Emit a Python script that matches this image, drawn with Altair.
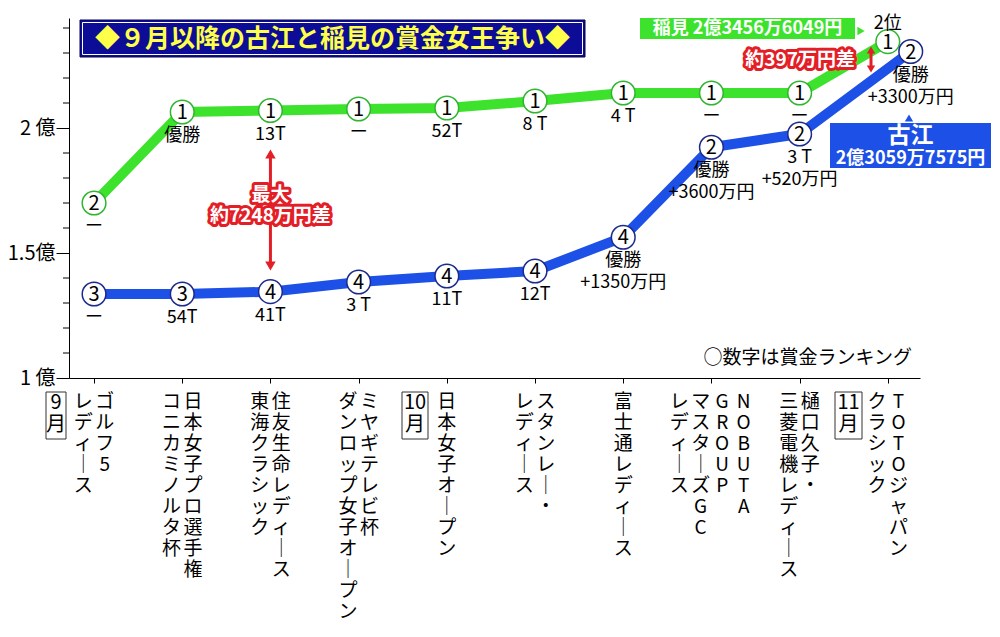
import altair as alt
import pandas as pd

FONT = "Noto Sans CJK JP"
GREEN = "#3de22c"
GREEN_EDGE = "#2fb52f"
BLUE = "#1d50e6"
BLUE_EDGE = "#1b2a8c"
RED = "#e41e26"
NAVY = "#0c0c96"

# data
players = ["稲見", "古江"]
inami_amount = [1.70, 2.064, 2.07, 2.076, 2.08, 2.108, 2.14, 2.14, 2.14, 2.3457]
furue_amount = [1.336, 1.336, 1.3452, 1.384, 1.408, 1.428, 1.563, 1.923, 1.976, 2.306]
inami_rank = [2, 1, 1, 1, 1, 1, 1, 1, 1, 1]
furue_rank = [3, 3, 4, 4, 4, 4, 4, 2, 2, 2]
inami_result = ["ー", "優勝", "13T", "ー", "52T", "8 T", "4 T", "ー", "ー", "2位"]
furue_result = ["ー", "54T", "41T", "3 T", "11T", "12T",
                "優勝\n+1350万円", "優勝\n+3600万円", "3 T\n+520万円", "優勝\n+3300万円"]
tournaments = [
    ["ゴルフ5", "レディース"],
    ["日本女子プロ選手権", "コニカミノルタ杯"],
    ["住友生命レディース", "東海クラシック"],
    ["ミヤギテレビ杯", "ダンロップ女子オープン"],
    ["日本女子オープン"],
    ["スタンレー・", "レディース"],
    ["富士通レディース"],
    ["NOBUTA", "GROUP", "マスターズGC", "レディース"],
    ["樋口久子・", "三菱電機レディース"],
    ["TOTOジャパン", "クラシック"],
]
months = ["9月", "10月", "11月"]
y_labels = [1, 1.5, 2]
y_minor = [1.1, 1.2, 1.3, 1.4, 1.6, 1.7, 1.8, 1.9, 2.1, 2.2, 2.3, 2.4]
title_text = "◆９月以降の古江と稲見の賞金女王争い◆"
inami_total = "稲見  2億3456万6049円"
furue_name = "古江"
furue_total = "2億3059万7575円"
max_gap = "最大\n約7248万円差"
final_gap = "約397万円差"
note = "○数字は賞金ランキング"

rows = []
for i in range(10):
    rows.append(dict(idx=i, player="稲見", amount=inami_amount[i], rank=inami_rank[i], result=inami_result[i]))
for i in range(10):
    rows.append(dict(idx=i, player="古江", amount=furue_amount[i], rank=furue_rank[i], result=furue_result[i]))
df = pd.DataFrame(rows)

xscale = alt.Scale(domain=[-0.284, 9.365], nice=False, zero=False)
yscale = alt.Scale(domain=[1, 2.44], nice=False, zero=False)
x_axis = alt.Axis(values=list(range(10)), labels=False, tickSize=5, title=None, grid=False,
                  tickColor="black", domainColor="black")
y_axis = alt.Axis(values=y_labels, title=None, grid=False, tickSize=13, labelFontSize=20,
                  labelColor="black", tickColor="black", domainColor="black", labelPadding=1,
                  labelFont=FONT,
                  labelExpr="datum.value == 1.5 ? '1.5億' : datum.value + ' 億'")
x_enc = alt.X("xpos:Q", scale=xscale, axis=x_axis)
y_enc = alt.Y("amount:Q", scale=yscale, axis=y_axis)
color_scale = alt.Scale(domain=players, range=[GREEN, BLUE])
edge_scale = alt.Scale(domain=players, range=[GREEN_EDGE, BLUE_EDGE])


def at_event(i):
    return alt.X(datum=i, scale=xscale, axis=x_axis)


# last 古江 circle sits a bit to the right of 稲見's
base = alt.Chart(df).transform_calculate(
    xpos="datum.idx + (datum.player == '古江' && datum.idx == 9 ? 0.26 : 0)"
)

lines = base.mark_line(strokeWidth=10).encode(
    x=x_enc, y=y_enc,
    color=alt.Color("player:N", scale=color_scale, legend=None),
    detail="player:N"
)
circles = base.mark_point(shape="circle", filled=True, fill="white", size=560, strokeWidth=1.5, opacity=1).encode(
    x=x_enc, y=y_enc,
    stroke=alt.Stroke("player:N", scale=edge_scale, legend=None)
)
ranks = base.mark_text(font=FONT, fontSize=20, baseline="middle", dy=1, color="black").encode(
    x=x_enc, y=y_enc, text="rank:Q"
)
results_below = base.transform_filter("!(datum.player == '稲見' && datum.idx == 9)").mark_text(
    font=FONT, fontSize=18, baseline="top", dy=15, lineBreak="\n", lineHeight=22, color="black"
).encode(x=x_enc, y=y_enc, text="result:N")
results_above = base.transform_filter("datum.player == '稲見' && datum.idx == 9").mark_text(
    font=FONT, fontSize=18, baseline="middle", dy=-18, color="black"
).encode(x=x_enc, y=y_enc, text="result:N")

minor = alt.Chart(pd.DataFrame({"amount": y_minor})).mark_rule(color="black", strokeWidth=1).encode(
    y=y_enc, x=alt.value(-6), x2=alt.value(0)
)

# vertical tournament names, one text mark per column
lab_rows = []
for i, cols in enumerate(tournaments):
    n = len(cols)
    for j, c in enumerate(cols):
        lab_rows.append(dict(xpos=i, off=(n - 1) / 2 - j, text="\n".join(c.replace("ー", "│"))))
lab_df = pd.DataFrame(lab_rows)
label_layers = []
for off in sorted(lab_df["off"].unique()):
    label_layers.append(
        alt.Chart(lab_df).transform_filter(f"datum.off == {off}").mark_text(
            font=FONT, fontSize=19, lineBreak="\n", lineHeight=21, baseline="top",
            dx=float(off) * 21.5, color="black"
        ).encode(x=x_enc, y=alt.value(375), text="text:N")
    )

# month boxes
month_layers = []
for m, (x0, x1) in zip(months, [(-23, -3), (333, 359), (766, 793)]):
    mdf = pd.DataFrame({"t": ["\n".join([m[:-1], m[-1]])]})
    month_layers.append(alt.Chart(mdf).mark_rect(fill="white", stroke="#333", strokeWidth=1).encode(
        x=alt.value(x0), x2=alt.value(x1), y=alt.value(374), y2=alt.value(421)))
    month_layers.append(alt.Chart(mdf).mark_text(
        font=FONT, fontSize=20, lineBreak="\n", lineHeight=22, baseline="top", color="black"
    ).encode(x=alt.value((x0 + x1) / 2), y=alt.value(375), text="t:N"))

# title box
tdf = pd.DataFrame({"t": [title_text]})
title_box = alt.Chart(tdf).mark_rect(fill=NAVY, stroke="#05054a", strokeWidth=1).encode(
    x=alt.value(11), x2=alt.value(516), y=alt.value(2), y2=alt.value(39))
title_inner = alt.Chart(tdf).mark_rect(fill=None, stroke="white", strokeWidth=1).encode(
    x=alt.value(13.5), x2=alt.value(513.5), y=alt.value(4.5), y2=alt.value(36.5))
title_txt = alt.Chart(tdf).mark_text(
    font=FONT, fontSize=25, fontWeight="bold", color="#ffff4a", baseline="middle"
).encode(x=alt.value(263.5), y=alt.value(21), text="t:N")

# name boxes
gdf = pd.DataFrame({"t": [inami_total]})
green_box = alt.Chart(gdf).mark_rect(fill=GREEN).encode(
    x=alt.value(571), x2=alt.value(786), y=alt.value(0), y2=alt.value(21))
green_ptr = alt.Chart(gdf).mark_point(shape="triangle-right", filled=True, fill=GREEN, size=70, opacity=1).encode(
    x=alt.value(792), y=alt.value(13))
green_txt = alt.Chart(gdf).mark_text(
    font=FONT, fontSize=18, fontWeight="bold", color="white", baseline="middle"
).encode(x=alt.value(678.5), y=alt.value(11), text="t:N")

bdf = pd.DataFrame({"name": [furue_name], "total": [furue_total]})
blue_box = alt.Chart(bdf).mark_rect(fill=BLUE).encode(
    x=alt.value(761), x2=alt.value(922), y=alt.value(105), y2=alt.value(150))
blue_ptr = alt.Chart(bdf).mark_point(shape="triangle-up", filled=True, fill=BLUE, size=70, opacity=1).encode(
    x=alt.value(840), y=alt.value(100))
blue_name = alt.Chart(bdf).mark_text(
    font=FONT, fontSize=23, fontWeight="bold", color="white", baseline="middle"
).encode(x=alt.value(841.5), y=alt.value(118), text="name:N")
blue_total = alt.Chart(bdf).mark_text(
    font=FONT, fontSize=18, fontWeight="bold", color="white", baseline="middle"
).encode(x=alt.value(841.5), y=alt.value(141), text="total:N")

# gap annotations
mdf = pd.DataFrame({"t": [max_gap]})
arrow1 = alt.Chart(mdf).mark_rule(color=RED, strokeWidth=3).encode(
    x=at_event(2), y=alt.value(136), y2=alt.value(248))
head1u = alt.Chart(mdf).mark_point(shape="triangle-up", filled=True, fill=RED, size=110, opacity=1).encode(
    x=at_event(2), y=alt.value(136))
head1d = alt.Chart(mdf).mark_point(shape="triangle-down", filled=True, fill=RED, size=110, opacity=1).encode(
    x=at_event(2), y=alt.value(248))
gap1_halo = alt.Chart(mdf).mark_text(
    font=FONT, fontSize=19, fontWeight="bold", lineBreak="\n", lineHeight=21, baseline="top",
    fill=RED, stroke=RED, strokeWidth=6, strokeJoin="round"
).encode(x=at_event(2), y=alt.value(168), text="t:N")
gap1_txt = alt.Chart(mdf).mark_text(
    font=FONT, fontSize=19, fontWeight="bold", lineBreak="\n", lineHeight=21, baseline="top", fill="white"
).encode(x=at_event(2), y=alt.value(168), text="t:N")

fdf = pd.DataFrame({"t": [final_gap]})
arrow2 = alt.Chart(fdf).mark_rule(color=RED, strokeWidth=3).encode(
    x=alt.value(802), y=alt.value(32), y2=alt.value(51))
head2u = alt.Chart(fdf).mark_point(shape="triangle-up", filled=True, fill=RED, size=70, opacity=1).encode(
    x=alt.value(802), y=alt.value(32))
head2d = alt.Chart(fdf).mark_point(shape="triangle-down", filled=True, fill=RED, size=70, opacity=1).encode(
    x=alt.value(802), y=alt.value(51))
gap2_halo = alt.Chart(fdf).mark_text(
    font=FONT, fontSize=19, fontWeight="bold", align="right", baseline="middle",
    fill=RED, stroke=RED, strokeWidth=6, strokeJoin="round"
).encode(x=alt.value(786), y=alt.value(42), text="t:N")
gap2_txt = alt.Chart(fdf).mark_text(
    font=FONT, fontSize=19, fontWeight="bold", align="right", baseline="middle", fill="white"
).encode(x=alt.value(786), y=alt.value(42), text="t:N")

note_txt = alt.Chart(pd.DataFrame({"t": [note]})).mark_text(
    font=FONT, fontSize=19, align="right", baseline="middle", color="black"
).encode(x=alt.value(843), y=alt.value(340), text="t:N")

chart = alt.layer(
    lines, minor, circles, ranks, results_below, results_above,
    *label_layers, *month_layers,
    title_box, title_inner, title_txt,
    green_box, green_ptr, green_txt, blue_ptr, blue_box, blue_name, blue_total,
    arrow1, head1u, head1d, gap1_halo, gap1_txt,
    arrow2, head2u, head2d, gap2_halo, gap2_txt,
    note_txt,
).properties(
    width=851, height=360,
    padding={"left": 61, "top": 10, "right": 72, "bottom": 251},
    autosize="none",
).configure_view(stroke=None)

chart.save("out.html", embed_options={"renderer": "svg", "actions": False})
